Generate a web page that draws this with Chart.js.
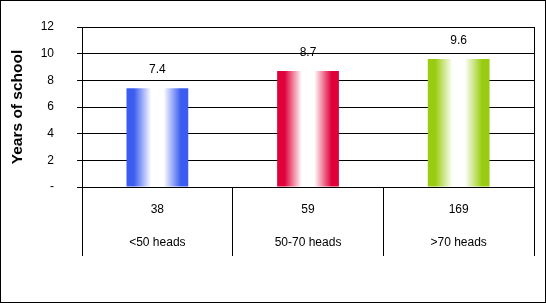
<!DOCTYPE html>
<html>
<head>
<meta charset="utf-8">
<script src="https://cdn.jsdelivr.net/npm/chart.js@4/dist/chart.umd.min.js"></script>
<style>
	body { margin: 0; background: #fff; }
	#wrap { width: 546px; height: 303px; box-sizing: border-box; border: 1px solid #000; }
	canvas { display: block; }
</style>
</head>
<body>
<div id="wrap"><canvas id="chart" width="544" height="301"></canvas></div>
<script>
// herd size groups, number of households, mean years of school
const categories = ['<50 heads', '50-70 heads', '>70 heads'];
const counts = [38, 59, 169];
const years = [7.4, 8.7, 9.6];
const barColors = ['#3b5cf0', '#e0003a', '#99cc10'];
const yTicks = [0, 2, 4, 6, 8, 10, 12];

const FONT = '"Liberation Sans", Arial, sans-serif';
const BAR_PCT = 0.41;

function barGradient(context)
{
	const chart = context.chart;
	const area = chart.chartArea;
	const base = barColors[context.dataIndex];
	if (!area)
		return base;
	const xScale = chart.scales.x;
	const cx = xScale.getPixelForValue(context.dataIndex);
	const w = (area.right - area.left) / categories.length * BAR_PCT;
	const g = chart.ctx.createLinearGradient(cx - w / 2, 0, cx + w / 2, 0);
	g.addColorStop(0, base);
	g.addColorStop(0.12, base);
	g.addColorStop(0.4, '#ffffff');
	g.addColorStop(0.6, '#ffffff');
	g.addColorStop(0.88, base);
	g.addColorStop(1, base);
	return g;
}

const valueLabels = {
	id: 'valueLabels',
	afterDatasetsDraw(chart)
	{
		const ctx = chart.ctx;
		const meta = chart.getDatasetMeta(0);
		ctx.save();
		ctx.font = '12px ' + FONT;
		ctx.fillStyle = '#000';
		ctx.textAlign = 'center';
		ctx.textBaseline = 'middle';
		meta.data.forEach((bar, i) => {
			ctx.fillText(years[i].toFixed(1), bar.x, bar.y - 18.5);
		});
		ctx.restore();
	}
};

const labelsX = categories.map((c, i) => [String(counts[i]), c]);

new Chart(document.getElementById('chart'), {
	type: 'bar',
	data: {
		labels: labelsX,
		datasets: [{
			data: years,
			backgroundColor: barGradient,
			borderWidth: 0,
			barPercentage: BAR_PCT,
			categoryPercentage: 1
		}]
	},
	options: {
		responsive: false,
		animation: false,
		devicePixelRatio: 1,
		layout: { padding: { left: 0, right: 11, top: 26, bottom: 44.6 } },
		plugins: {
			legend: { display: false },
			tooltip: { enabled: false }
		},
		scales: {
			x: {
				offset: true,
				border: { display: true, color: '#000', width: 1 },
				grid: {
					offset: true,
					color: ctx => (ctx.index === 0 || ctx.index === undefined) ? '#000' : 'rgba(0,0,0,0)',
					tickColor: '#000',
					tickLength: 69,
					lineWidth: 1
				},
				ticks: {
					color: '#000',
					padding: -63,
					maxRotation: 0,
					autoSkip: false,
					font: { family: FONT, size: 12, lineHeight: 2.75 }
				},
				// empty title only to make the axis box tall enough that the labels are not clipped
				title: {
					display: true,
					text: ' ',
					color: 'rgba(0,0,0,0)',
					padding: { top: 0, bottom: 47 },
					font: { family: FONT, size: 12 }
				}
			},
			y: {
				min: 0,
				max: 12,
				afterBuildTicks: axis => { axis.ticks = yTicks.map(v => ({ value: v })); },
				// the big tick padding would otherwise push the plot area down
				afterFit: axis => { axis.paddingTop = 0; axis.paddingBottom = 0; },
				border: { display: true, color: '#000', width: 1 },
				grid: { color: '#000', tickColor: '#000', tickLength: 5, lineWidth: 1 },
				ticks: {
					color: '#000',
					padding: 23,
					font: { family: FONT, size: 12 },
					callback: v => v === 0 ? '-' : v
				},
				title: {
					display: true,
					text: 'Years of school',
					color: '#000',
					padding: { top: 7.7, bottom: -9.6 },
					font: { family: FONT, size: 15.5, weight: 'bold' }
				}
			}
		}
	},
	plugins: [valueLabels]
});
</script>
</body>
</html>
